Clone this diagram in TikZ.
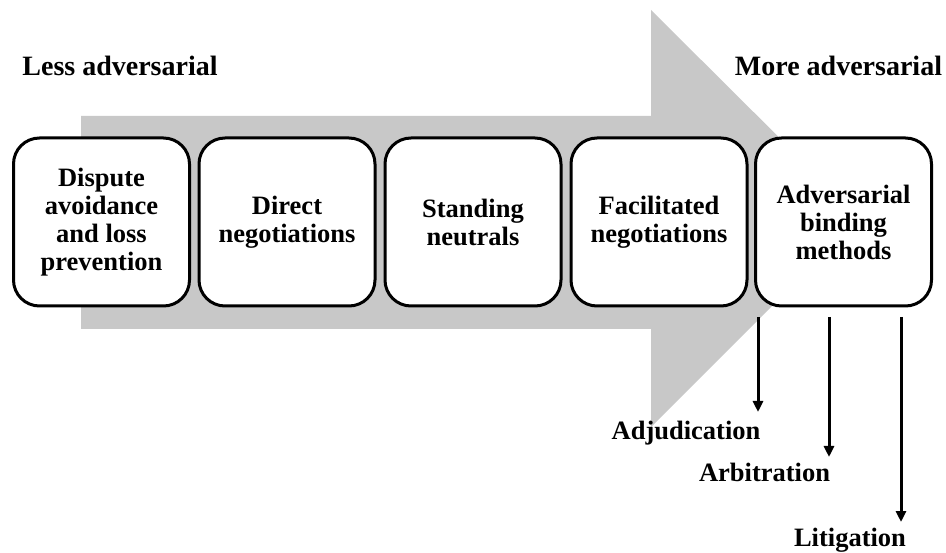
\documentclass[tikz,border=0pt]{standalone}
\usepackage{fontspec}
\setmainfont{Liberation Serif}
\usetikzlibrary{arrows.meta,calc}
\definecolor{arrowgray}{RGB}{200,200,200}
\begin{document}
\begin{tikzpicture}[x=1pt,y=-1pt,
  stagebox/.style={draw=black, line width=3pt, fill=white, rounded corners=26pt,
    minimum width=176pt, minimum height=168pt, align=center, inner sep=0pt,
    font=\fontsize{26.5}{28}\selectfont\bfseries},
  endlabel/.style={font=\fontsize{28}{30}\selectfont\bfseries, inner sep=0pt, anchor=base},
  outlabel/.style={font=\fontsize{26.5}{28.5}\selectfont\bfseries, inner sep=0pt, anchor=base},
  downarrow/.style={line width=3pt, -{Triangle[length=11pt,width=10pt]}}]
\useasboundingbox (0,0) rectangle (946,553);
% big background arrow
\fill[arrowgray] (81,116) -- (651,116) -- (651,10) -- (860,218) -- (651,427) -- (651,329) -- (81,329) -- cycle;
% end labels
\node[endlabel] (less) at (120,76) {Less adversarial};
\node[endlabel] (more) at (838.5,76) {More adversarial};
% stages
\node[stagebox] (b1) at (101.5,222) {Dispute\\avoidance\\and loss\\prevention};
\node[stagebox] (b2) at (287,222) {Direct\\negotiations};
\node[stagebox] (b3) at (473,222) {Standing\\neutrals};
\node[stagebox] (b4) at (659,222) {Facilitated\\negotiations};
\node[stagebox] (b5) at (843.5,222) {Adversarial\\binding\\methods};
% outcome labels
\node[outlabel] (adj) at (686,440) {Adjudication};
\node[outlabel] (arb) at (764.5,482) {Arbitration};
\node[outlabel] (lit) at (850,546) {Litigation};
% arrow start and end points
\coordinate (s1) at (758,317);
\coordinate (s2) at (829,317);
\coordinate (s3) at (901,317);
\coordinate (e1) at (758,412);
\coordinate (e2) at (829,457);
\coordinate (e3) at (901,522);
\draw[downarrow] (s1) -- (e1);
\draw[downarrow] (s2) -- (e2);
\draw[downarrow] (s3) -- (e3);
\end{tikzpicture}
\end{document}
